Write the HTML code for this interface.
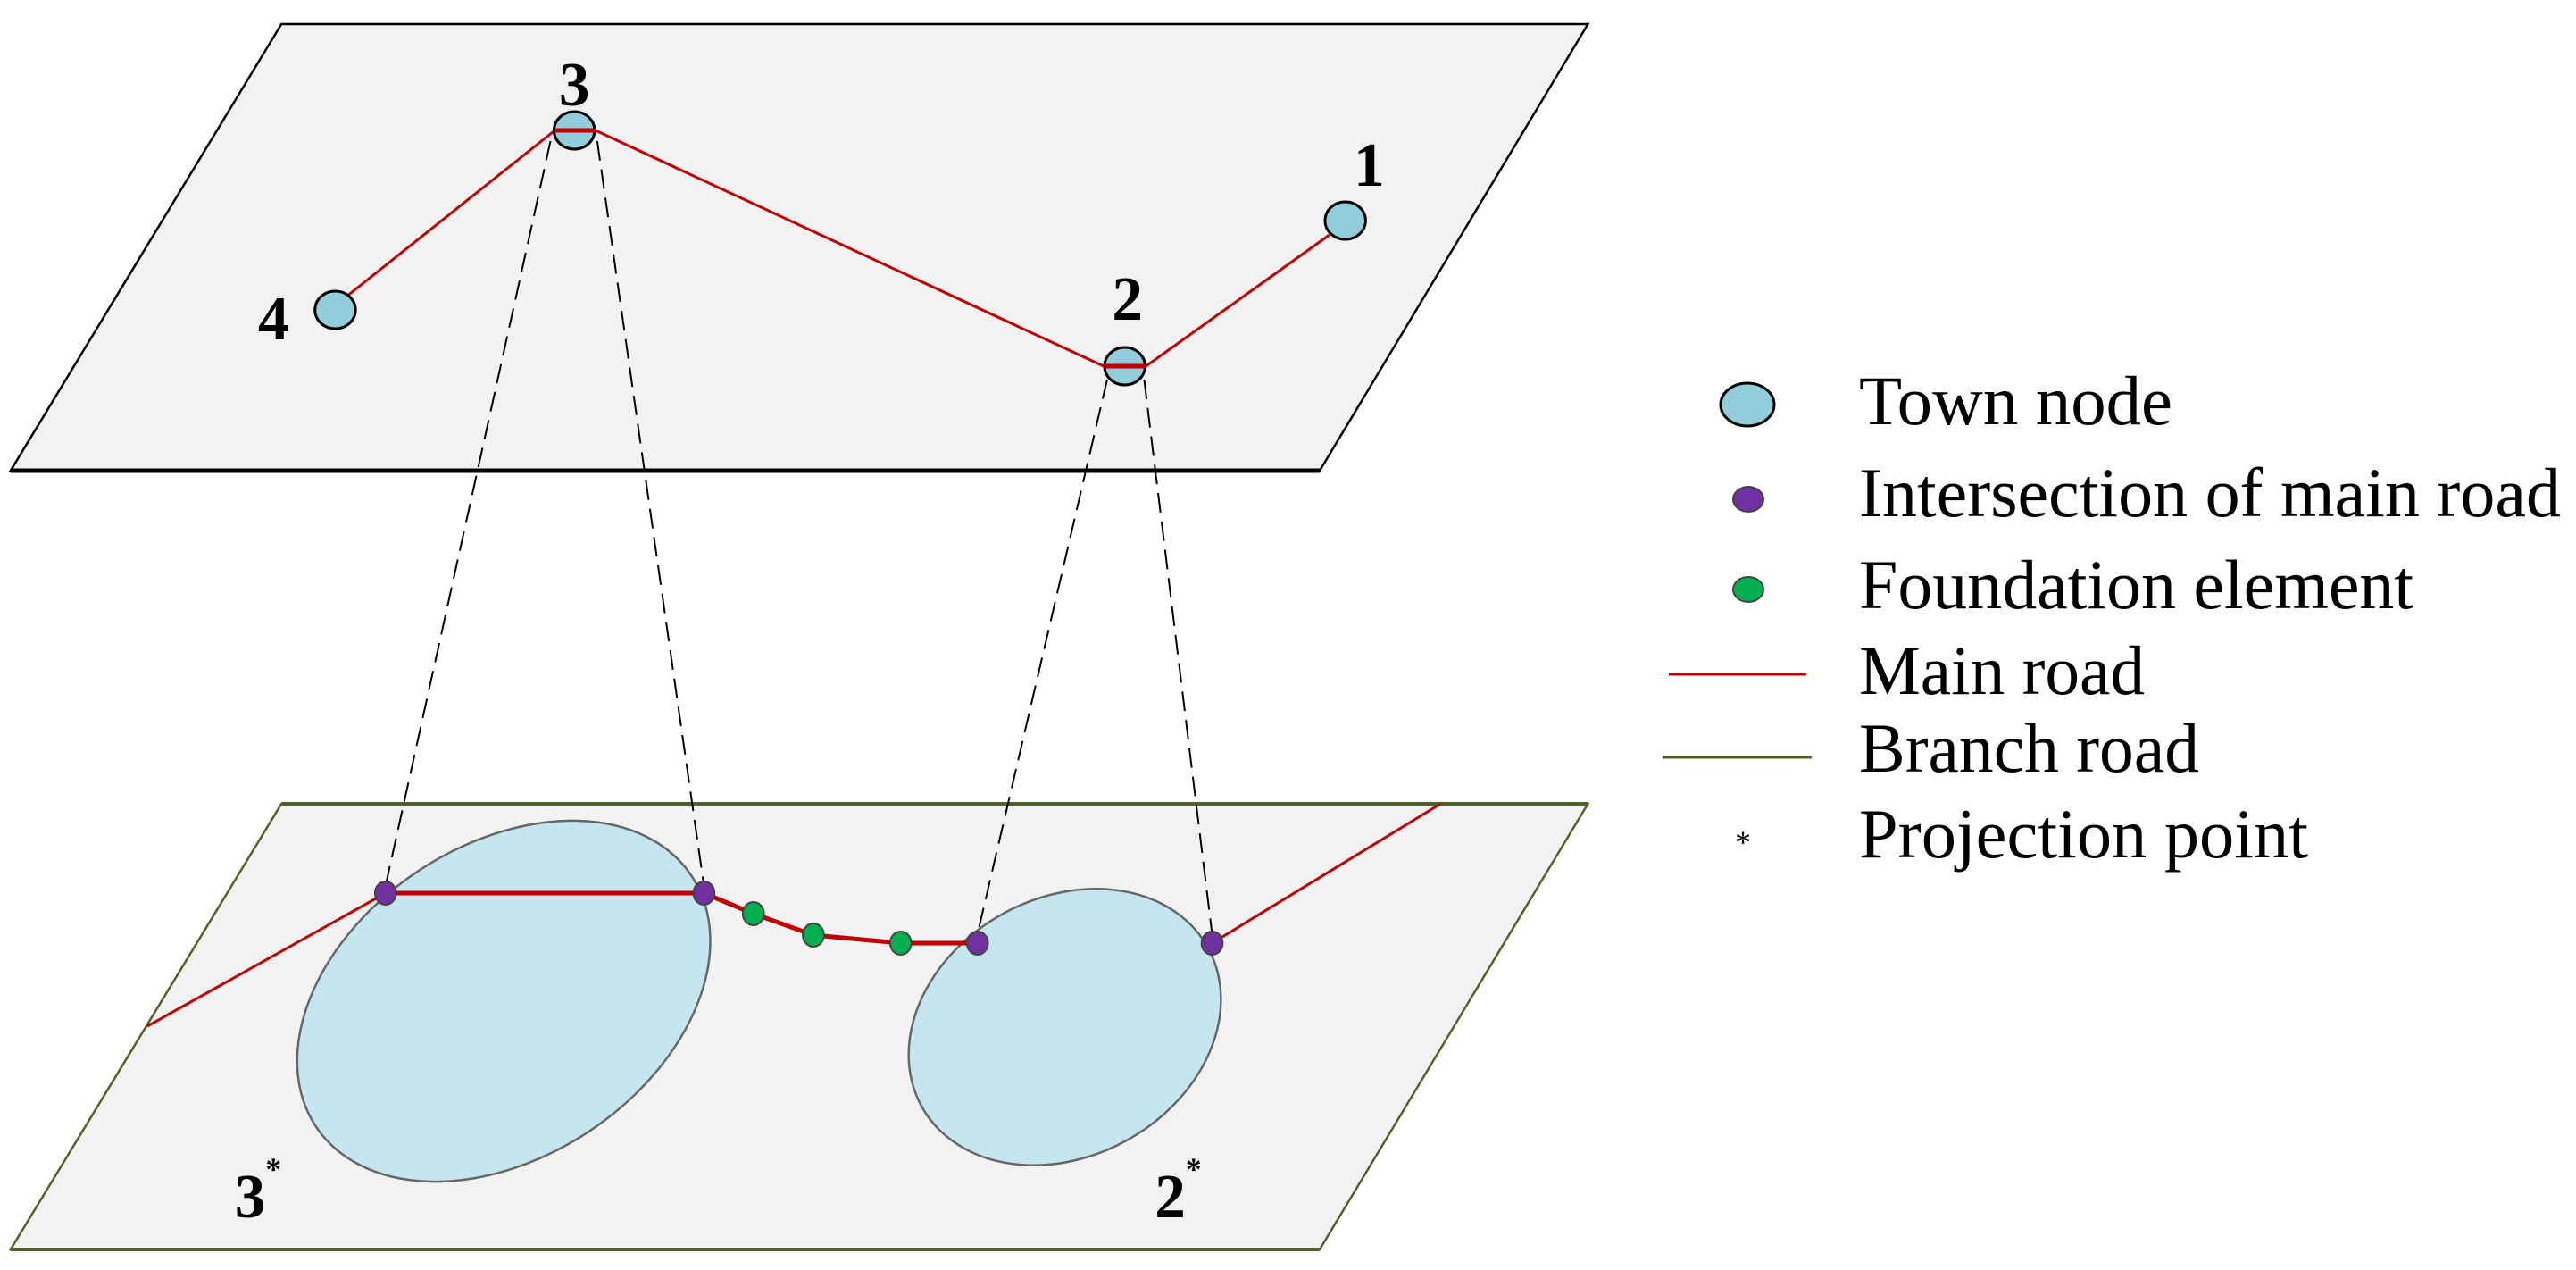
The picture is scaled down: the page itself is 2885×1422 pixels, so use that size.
<!DOCTYPE html>
<html><head><meta charset="utf-8"><style>html,body{margin:0;padding:0;background:#fff}svg{display:block}</style></head>
<body>
<svg width="2885" height="1422" viewBox="0 0 2885 1422" xmlns="http://www.w3.org/2000/svg" font-family="'Liberation Serif', serif">
<g transform="scale(0.988,1)">
<!-- upper plane -->
<polygon points="319,27 1800,27 1496,527 12,527" fill="#f2f2f2" stroke="#000" stroke-width="2.5"/>
<line x1="12" y1="527" x2="1496" y2="527" stroke="#000" stroke-width="5"/>
<!-- lower plane -->
<polygon points="319,900 1800,900 1496,1399 12,1399" fill="#f2f2f2" stroke="#4f6228" stroke-width="2.5"/>
<line x1="319" y1="900" x2="1800" y2="900" stroke="#4f6228" stroke-width="4"/>
<line x1="12" y1="1399" x2="1496" y2="1399" stroke="#4f6228" stroke-width="4"/>
<!-- big ellipses -->
<ellipse cx="571" cy="1121" rx="255" ry="175" transform="rotate(-33 571 1121)" fill="#c5e6ee" stroke="#666" stroke-width="2.5"/>
<ellipse cx="1207" cy="1150" rx="185" ry="145" transform="rotate(-28 1207 1150)" fill="#c5e6ee" stroke="#666" stroke-width="2.5"/>
<!-- dashed projection lines -->
<g stroke="#000" stroke-width="2" stroke-dasharray="22,10" fill="none">
<line x1="624" y1="158" x2="437" y2="992"/>
<line x1="677" y1="158" x2="798" y2="992"/>
<line x1="1255" y1="425" x2="1108" y2="1046"/>
<line x1="1297" y1="425" x2="1374" y2="1046"/>
</g>
<!-- upper red roads -->
<g stroke="#c00000" stroke-width="3" fill="none">
<line x1="394" y1="331" x2="629" y2="146"/>
<line x1="675" y1="146" x2="1251" y2="410"/>
<line x1="1299" y1="410" x2="1507" y2="263"/>
</g>
<!-- town nodes -->
<g fill="#92cddc" stroke="#000" stroke-width="3">
<ellipse cx="651" cy="146" rx="23" ry="21"/>
<ellipse cx="380" cy="347" rx="23" ry="21"/>
<ellipse cx="1275" cy="410" rx="23" ry="21"/>
<ellipse cx="1525" cy="247" rx="23" ry="21"/>
</g>
<g stroke="#c00000" stroke-width="5">
<line x1="629" y1="146" x2="675" y2="146"/>
<line x1="1251" y1="410" x2="1299" y2="410"/>
</g>
<!-- labels upper -->
<g font-size="70" font-weight="bold" text-anchor="middle" fill="#000">
<text x="651" y="118">3</text>
<text x="1552" y="208">1</text>
<text x="1278" y="358">2</text>
<text x="310" y="380">4</text>
</g>
<!-- lower red roads -->
<g stroke="#c00000" fill="none" stroke-linejoin="round">
<line x1="167" y1="1149" x2="437" y2="1000" stroke-width="3"/>
<polyline points="437,1000 798,1000 854,1023 922,1047 1021,1056 1108,1056" stroke-width="5"/>
<line x1="1374" y1="1056" x2="1633" y2="900" stroke-width="3"/>
</g>
<g fill="#7030a0" stroke="#444" stroke-width="2">
<ellipse cx="437" cy="1000" rx="12" ry="13"/>
<ellipse cx="798" cy="1000" rx="12" ry="13"/>
<ellipse cx="1108" cy="1056" rx="12" ry="13"/>
<ellipse cx="1374" cy="1056" rx="12" ry="13"/>
</g>
<g fill="#00b050" stroke="#444" stroke-width="2">
<ellipse cx="854" cy="1023" rx="12" ry="13"/>
<ellipse cx="922" cy="1047" rx="12" ry="13"/>
<ellipse cx="1021" cy="1056" rx="12" ry="13"/>
</g>
<g font-size="70" font-weight="bold" fill="#000">
<text x="266" y="1363">3<tspan font-size="36" dy="-42">*</tspan></text>
<text x="1309" y="1363">2<tspan font-size="36" dy="-42">*</tspan></text>
</g>
</g>
<!-- legend -->
<ellipse cx="1957" cy="453" rx="30" ry="24" fill="#92cddc" stroke="#000" stroke-width="3"/>
<ellipse cx="1958" cy="559" rx="17" ry="14" fill="#7030a0" stroke="#444" stroke-width="2"/>
<ellipse cx="1958" cy="660" rx="17" ry="14" fill="#00b050" stroke="#444" stroke-width="2"/>
<line x1="1869" y1="755" x2="2023" y2="755" stroke="#c00000" stroke-width="3"/>
<line x1="1862" y1="848" x2="2029" y2="848" stroke="#4f6228" stroke-width="3"/>
<text x="1952" y="955" font-size="36" text-anchor="middle">*</text>
<g font-size="78" fill="#000" lengthAdjust="spacingAndGlyphs">
<text x="2082" y="475" textLength="351" lengthAdjust="spacingAndGlyphs">Town node</text>
<text x="2082" y="578" textLength="786" lengthAdjust="spacingAndGlyphs">Intersection of main road</text>
<text x="2082" y="681" textLength="621" lengthAdjust="spacingAndGlyphs">Foundation element</text>
<text x="2082" y="777" textLength="320" lengthAdjust="spacingAndGlyphs">Main road</text>
<text x="2082" y="864" textLength="381" lengthAdjust="spacingAndGlyphs">Branch road</text>
<text x="2082" y="960" textLength="503" lengthAdjust="spacingAndGlyphs">Projection point</text>
</g>
</svg>
</body></html>
